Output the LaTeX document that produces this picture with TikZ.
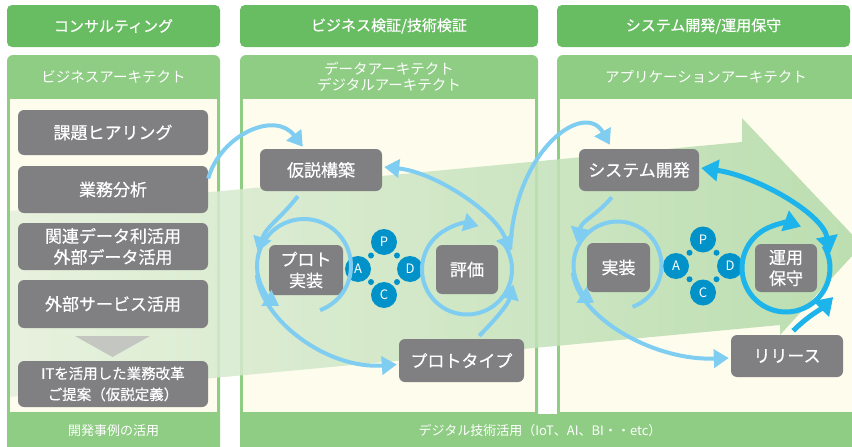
\documentclass[tikz,border=0pt]{standalone}
\usepackage{fontspec}
\setmainfont{Noto Sans CJK JP}
\newfontfamily\boxfont{Noto Sans CJK JP}[FakeBold=0.5]
\usetikzlibrary{
    arrows.meta,
    calc
}

\definecolor{hdgreen}{RGB}{104,188,98}
\definecolor{subgreen}{RGB}{143,204,132}
\definecolor{cream}{RGB}{254,252,237}
\definecolor{boxgray}{RGB}{128,128,131}
\definecolor{lightblue}{RGB}{128,205,242}
\definecolor{deepblue}{RGB}{28,180,234}
\definecolor{pdcablue}{RGB}{0,146,200}
\definecolor{bandleft}{RGB}{228,240,220}
\definecolor{bandright}{RGB}{176,217,166}
\definecolor{tipgray}{RGB}{196,199,193}

\tikzset{
    bigtip/.tip={Triangle[width=18pt,length=15pt]},
    deeptip/.tip={Triangle[width=21pt,length=17pt]},
    headbar/.style={fill=hdgreen, rounded corners=5pt, text=white, minimum height=42pt, font=\boxfont\fontsize{15}{18}\selectfont},
    subtitle/.style={text=white, align=center, font=\fontsize{14.5}{16}\selectfont},
    bandtext/.style={text=white, font=\fontsize{13}{16}\selectfont},
    graybox/.style={fill=boxgray, rounded corners=6pt, text=white, align=center, inner sep=0pt, font=\boxfont\fontsize{17}{21}\selectfont},
    pdca/.style={circle, fill=pdcablue, text=white, minimum size=26pt, inner sep=0pt, font=\fontsize{13}{13}\selectfont},
    lbarrow/.style={draw=lightblue, line width=4pt, -bigtip},
    lbboth/.style={draw=lightblue, line width=4pt, bigtip-bigtip},
    dbarrow/.style={draw=deepblue, line width=5pt, -deeptip},
    dbboth/.style={draw=deepblue, line width=5pt, deeptip-deeptip}
}

\begin{document}
\begin{tikzpicture}[x=1pt, y=-1pt]
    \useasboundingbox (0,0) rectangle (852,447);
    \clip (0,0) rectangle (852,447);
    \fill[white] (0,0) rectangle (852,447);

    % panels
    \fill[subgreen, rounded corners=6pt] (7,55) rectangle (220,470);
    \fill[subgreen, rounded corners=6pt] (240,55) rectangle (538,470);
    \fill[subgreen, rounded corners=6pt] (557,55) rectangle (880,470);
    \fill[subgreen] (240,414) rectangle (880,470);
    \fill[cream] (10,99) rectangle (217,412);
    \fill[cream] (243,99) rectangle (535,412);
    \fill[cream] (560,99) rectangle (880,412);

    % headers
    \node[headbar, minimum width=213pt] (consult) at (113.5,26) {コンサルティング};
    \node[headbar, minimum width=298pt] (verify) at (389,26) {ビジネス検証/技術検証};
    \node[headbar, minimum width=293pt] (devops) at (703.5,26) {システム開発/運用保守};
    \node[subtitle] (bizarch) at (113.5,77) {ビジネスアーキテクト};
    \node[subtitle] (dataarch) at (389,77) {データアーキテクト\\デジタルアーキテクト};
    \node[subtitle] (apparch) at (706,77) {アプリケーションアーキテクト};
    \node[bandtext] (devcase) at (113.5,431) {開発事例の活用};
    \node[bandtext] (digital) at (540,431) {デジタル技術活用（IoT、AI、BI・・etc）};

    % big green arrow
    \shade[left color=bandleft, right color=bandright, opacity=0.85]
        (10,211) -- (742,142) -- (742,118) -- (862,245) -- (780,335) -- (780,325) -- (10,397) -- cycle;

    % consulting
    \node[graybox, minimum width=190pt, minimum height=45pt] (kadai) at (113,132.5) {課題ヒアリング};
    \node[graybox, minimum width=190pt, minimum height=47pt] (bunseki) at (113,189.5) {業務分析};
    \node[graybox, minimum width=190pt, minimum height=47pt] (kanren) at (113,246.5) {関連データ利活用\\外部データ活用};
    \node[graybox, minimum width=190pt, minimum height=48pt] (gaibu) at (113,304) {外部サービス活用};
    \fill[tipgray] (75,336) -- (150,336) -- (112.5,357) -- cycle;
    \node[graybox, minimum width=190pt, minimum height=46pt, font=\boxfont\fontsize{14.5}{21}\selectfont] (teian) at (113,384) {ITを活用した業務改革\\ご提案（仮説定義）};

    % verification
    \node[graybox, minimum width=122pt, minimum height=42pt] (kasetsu) at (321,170) {仮説構築};
    \node[graybox, minimum width=74pt, minimum height=50pt] (proto) at (306,270) {プロト\\実装};
    \node[graybox, minimum width=62pt, minimum height=49pt] (hyoka) at (467,269.5) {評価};
    \node[graybox, minimum width=125pt, minimum height=43pt] (prototype) at (461.5,360.5) {プロトタイプ};
    \node[pdca] (p2) at (384,242) {P};
    \node[pdca] (a2) at (358,269) {A};
    \node[pdca] (d2) at (410,269) {D};
    \node[pdca] (c2) at (384,295) {C};

    % development
    \node[graybox, minimum width=120pt, minimum height=42pt] (sysdev) at (639,170) {システム開発};
    \node[graybox, minimum width=63pt, minimum height=49pt] (jisso) at (618.5,267.5) {実装};
    \node[graybox, minimum width=62pt, minimum height=48pt] (unyo) at (786,268) {運用\\保守};
    \node[graybox, minimum width=112pt, minimum height=42pt] (release) at (787,356) {リリース};
    \node[pdca] (p3) at (703,239.5) {P};
    \node[pdca] (a3) at (676,266) {A};
    \node[pdca] (d3) at (730,266) {D};
    \node[pdca] (c3) at (703,292.5) {C};

    \foreach \u/\v in {p2/a2, p2/d2, c2/a2, c2/d2, p3/a3, p3/d3, c3/a3, c3/d3}
        \fill[pdcablue] ($(\u)!0.5!(\v)$) circle[radius=3];

    % cycle around the prototype
    \draw[lbarrow] ($(bunseki.east)+(0,-11)$) .. controls +(12,-43) and +(-28,-37) .. ($(kasetsu.north west)+(43,-2)$);
    \draw[lbarrow] ($(kasetsu.south west)+(38,5)$) .. controls +(-15,20) and +(8,-25) .. ($(proto.west)+(-11,-18)$);
    \draw[lbarrow] ($(proto)+(-2,-4)$) ++(70:47) arc[start angle=70, end angle=-238, radius=47];
    \draw[lbarrow] ($(proto.west)+(-12,5)$) .. controls +(5,45) and +(-70,5) .. ($(prototype.west)+(-2,4)$);
    \draw[lbarrow] ($(prototype.north east)+(-45,-3)$) .. controls +(15,-15) and +(-5,20) .. ($(hyoka.east)+(15,15)$);
    \draw[lbarrow] (hyoka) ++(320:45) arc[start angle=320, end angle=645, radius=45];
    \draw[lbboth] ($(kasetsu.east)+(2,-3)$) .. controls +(50,5) and +(-15,-40) .. ($(hyoka.east)+(12,-18)$);
    \draw[lbarrow] ($(hyoka.east)+(12,-20)$) .. controls +(4,-100) and +(-25,-45) .. ($(sysdev.north west)+(31,-4)$);

    % cycle around the release
    \draw[lbarrow] ($(sysdev.south west)+(33,6)$) .. controls +(-15,18) and +(5,-22) .. ($(jisso.west)+(-10,-25)$);
    \draw[lbarrow] ($(jisso)+(-1,-2)$) ++(70:44) arc[start angle=70, end angle=-238, radius=44];
    \draw[lbarrow] ($(jisso.west)+(-14,5)$) .. controls +(5,45) and +(-75,3) .. ($(release.west)+(-2,2)$);
    \draw[dbarrow] (unyo) ++(330:44) arc[start angle=330, end angle=650, radius=44];
    \draw[dbboth] ($(sysdev.east)+(2,-2)$) .. controls +(55,8) and +(-8,-40) .. ($(unyo.east)+(13,-15)$);
    \draw[dbarrow] ($(release.north east)+(-50,-4)$) .. controls +(15,-15) and +(-12,12) .. ($(unyo.east)+(16,29)$);
\end{tikzpicture}
\end{document}
